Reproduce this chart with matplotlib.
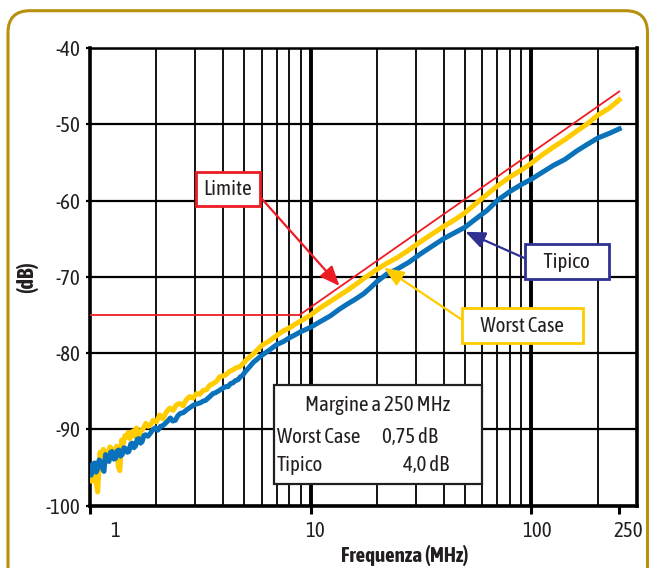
import matplotlib.pyplot as plt
from matplotlib.patches import FancyBboxPatch, Rectangle
from matplotlib.ticker import LogLocator, NullFormatter
from matplotlib.transforms import IdentityTransform, ScaledTranslation

# Worst Case curve (yellow)
worst_f = [1.0, 1.017, 1.04, 1.06, 1.083, 1.11, 1.13, 1.15, 1.169, 1.19,
           1.21, 1.23, 1.253, 1.275, 1.297, 1.32, 1.343, 1.366, 1.39, 1.415,
           1.44, 1.465, 1.49, 1.516, 1.543, 1.57, 1.597, 1.625, 1.653, 1.70,
           1.742, 1.79, 1.834, 1.88, 1.933, 2.0, 2.07, 2.14, 2.22, 2.30,
           2.38, 2.46, 2.55, 2.64, 2.73, 2.83, 2.93, 3.04, 3.14, 3.25,
           3.37, 3.49, 3.61, 3.74, 3.87, 4.0, 4.14, 4.29, 4.44, 4.6,
           4.76, 4.93, 5.1, 5.5, 6.0, 6.5, 7.0, 7.5, 8.0, 8.5,
           9.0, 9.5, 10.0, 11.0, 12.3, 13.4, 14.6, 16.0, 17.4, 18.7,
           20.0, 22.2, 24.6, 27.8, 31.4, 35.0, 40.0, 45.0, 50.0, 56.0,
           62.9, 70.0, 80.0, 90.0, 100.0, 112.0, 125.7, 142.0, 160.4, 180.0,
           200.0, 225.0, 250.0]
worst_db = [-95.5, -96.8, -94.8, -96.5, -98.2, -93.0, -94.6, -92.6, -92.9, -94.2,
            -93.6, -92.3, -92.5, -93.8, -93.4, -92.2, -94.9, -95.4, -91.4, -91.9,
            -90.8, -91.0, -90.4, -91.2, -90.5, -90.2, -90.9, -89.8, -91.0, -90.2,
            -89.9, -89.2, -89.6, -89.4, -88.8, -89.0, -88.1, -88.6, -87.7, -87.2,
            -87.5, -86.8, -86.6, -86.9, -86.1, -85.7, -85.9, -85.3, -85.4, -84.9,
            -84.8, -84.2, -84.0, -83.7, -83.1, -83.0, -82.8, -82.4, -82.2, -81.9,
            -81.8, -81.4, -80.9, -80.1, -79.0, -78.4, -77.7, -77.1, -76.7, -76.2,
            -75.8, -75.4, -75.0, -74.1, -73.2, -72.5, -71.8, -71.0, -70.2, -69.6,
            -69.0, -68.2, -67.5, -66.5, -65.4, -64.5, -63.4, -62.5, -61.6, -60.4,
            -59.2, -58.1, -56.9, -56.0, -55.1, -54.0, -53.0, -52.0, -50.9, -49.9,
            -48.8, -47.9, -46.8]

# Tipico curve (blue)
typ_f = [1.0, 1.012, 1.025, 1.049, 1.065, 1.079, 1.10, 1.117, 1.14, 1.157,
         1.176, 1.20, 1.219, 1.24, 1.261, 1.283, 1.305, 1.33, 1.352, 1.375,
         1.399, 1.425, 1.448, 1.475, 1.50, 1.53, 1.553, 1.58, 1.607, 1.635,
         1.665, 1.695, 1.723, 1.755, 1.784, 1.83, 1.878, 1.93, 1.98, 2.03,
         2.085, 2.14, 2.196, 2.25, 2.313, 2.37, 2.436, 2.50, 2.566, 2.65,
         2.75, 2.85, 2.95, 3.09, 3.17, 3.25, 3.34, 3.43, 3.52, 3.61,
         3.70, 3.80, 3.90, 4.0, 4.11, 4.22, 4.33, 4.44, 4.56, 4.68,
         4.80, 4.93, 5.0, 5.5, 6.0, 6.5, 7.0, 7.5, 8.0, 8.5,
         9.0, 9.5, 10.0, 11.0, 12.3, 13.4, 14.6, 16.0, 17.4, 18.7,
         20.0, 22.2, 24.6, 27.8, 31.4, 35.0, 40.0, 45.0, 50.0, 56.0,
         62.9, 70.0, 80.0, 90.0, 100.0, 112.0, 125.7, 142.0, 160.4, 180.0,
         200.0, 225.0, 250.0]
typ_db = [-94.9, -96.0, -94.6, -94.4, -95.6, -95.3, -94.0, -94.2, -95.1, -95.5,
          -93.3, -93.9, -94.2, -93.0, -92.9, -93.9, -93.8, -92.8, -92.7, -93.5,
          -93.3, -92.4, -92.5, -93.0, -92.9, -91.9, -91.8, -92.4, -92.2, -91.3,
          -91.2, -91.8, -91.6, -90.8, -90.7, -90.9, -90.5, -90.0, -89.8, -90.1,
          -89.6, -89.5, -89.2, -88.9, -88.5, -88.9, -88.8, -88.2, -87.9, -87.8,
          -87.4, -87.1, -86.8, -86.6, -86.5, -86.3, -86.2, -85.9, -85.6, -85.3,
          -85.2, -85.0, -84.8, -84.6, -84.4, -84.4, -84.0, -83.9, -83.6, -83.5,
          -83.1, -82.9, -82.6, -81.2, -80.3, -79.6, -78.9, -78.5, -78.0, -77.6,
          -77.2, -76.9, -76.6, -75.9, -75.1, -74.3, -73.6, -72.9, -72.2, -71.4,
          -70.6, -69.6, -69.0, -68.1, -67.0, -66.1, -65.0, -64.2, -63.5, -62.4,
          -61.3, -60.0, -58.8, -57.9, -57.2, -56.3, -55.4, -54.6, -53.5, -52.6,
          -51.8, -51.2, -50.6]

# Limite (red)
limit_f = [1.0, 8.9, 250.0]
limit_db = [-75.0, -75.0, -45.7]

x_ticks = [1, 10, 100, 250]
x_ticklabels = ['1', '10', '100', '250']
y_ticks = [-100, -90, -80, -70, -60, -50, -40]

margin_title = 'Margine a 250 MHz'
margin_rows = [('Worst Case', '0,75 dB'), ('Tipico', '4,0 dB')]

plt.rcParams['font.family'] = ['Asap Condensed', 'DejaVu Sans']
plt.rcParams['axes.unicode_minus'] = False
txt = '#231f20'

fig = plt.figure(figsize=(6.49, 5.68), dpi=100)
ax = fig.add_axes([90 / 649, 62.3 / 568, 546.7 / 649, 457.7 / 568])

ax.plot(worst_f, worst_db, color='#ffcc00', lw=3.6, zorder=3)
ax.plot(typ_f, typ_db, color='#0a72ba', lw=3.6, zorder=3)
ax.plot(limit_f, limit_db, color='#ed1c24', lw=1.3, zorder=4)

ax.set_xscale('log')
ax.set_xlim(1, 300)
ax.set_ylim(-100, -40)
ax.set_xticks(x_ticks, x_ticklabels)
ax.set_yticks(y_ticks)
ax.xaxis.set_minor_locator(LogLocator(base=10, subs=range(2, 10)))
ax.xaxis.set_minor_formatter(NullFormatter())

ax.grid(which='minor', axis='x', color='black', lw=1.3)
ax.grid(which='major', color='black', lw=1.6)
for t in ax.xaxis.get_major_ticks():
    if t.get_loc() in (10, 100):
        t.gridline.set_linewidth(2.8)
    else:
        t.gridline.set_visible(False)

ax.tick_params(which='minor', length=0)
ax.tick_params(axis='x', which='major', direction='out', length=6, width=2.2,
               pad=5, labelsize=15, labelcolor=txt)
ax.tick_params(axis='y', which='major', direction='out', length=3, width=1.6,
               pad=4, labelsize=15, labelcolor=txt)
for s in ['left', 'bottom', 'right']:
    ax.spines[s].set_linewidth(2.6)
ax.spines['top'].set_linewidth(1.8)

# the original prints the tick labels a little right of their ticks
for lbl, dx in zip(ax.get_xticklabels(), [25, 4, 6, 9]):
    lbl.set_transform(lbl.get_transform() + ScaledTranslation(dx / 100, 0, fig.dpi_scale_trans))

ax.set_xlabel('Frequenza (MHz)', fontsize=15, fontweight='bold', color=txt)
ax.xaxis.set_label_coords(0.576, -0.086)
ax.set_ylabel('(dB)', fontsize=16, fontweight='bold', color=txt, labelpad=5)

# callouts
def callout(text, xy, xytext, color, relpos):
    ax.annotate(text, xy=xy, xytext=xytext, ha='center', va='center',
                fontsize=15, color=txt, zorder=7,
                bbox=dict(boxstyle='square,pad=0.35', fc='white', ec=color, lw=2),
                arrowprops=dict(arrowstyle='-|>,head_length=0.6,head_width=0.25',
                                color=color, lw=1.6, mutation_scale=20,
                                shrinkA=0, shrinkB=0, relpos=relpos))

callout('Limite', (13.5, -71.2), (4.22, -58.5), '#ed1c24', (1.0, 0.55))
callout('    Tipico    ', (50.2, -64.1), (145, -68.0), '#2e3192', (0.0, 0.5))
callout('    Worst Case    ', (21.5, -68.8), (91.2, -76.4), '#ffcc00', (0.0, 0.55))

# margin table
ax.add_patch(Rectangle((0.3366, 0.0474), 0.3804, 0.2163, transform=ax.transAxes,
                       fc='white', ec=txt, lw=1.6, zorder=5))
ax.text(0.527, 0.220, margin_title, transform=ax.transAxes, ha='center', va='center',
        fontsize=15, color=txt, zorder=6)
for (name, val), y, xv in zip(margin_rows, [0.150, 0.089], [0.5336, 0.572]):
    ax.text(0.342, y, name, transform=ax.transAxes, ha='left', va='center',
            fontsize=15, color=txt, zorder=6)
    ax.text(xv, y, val, transform=ax.transAxes, ha='left', va='center',
            fontsize=15, color=txt, zorder=6)

# rounded frame round the whole figure
fig.add_artist(FancyBboxPatch((8, -40), 639.5, 597.3,
                              boxstyle='round,pad=0,rounding_size=22',
                              transform=IdentityTransform(), fill=False,
                              ec='#b8900f', lw=2.2))

fig.savefig('out.png', dpi=100)
